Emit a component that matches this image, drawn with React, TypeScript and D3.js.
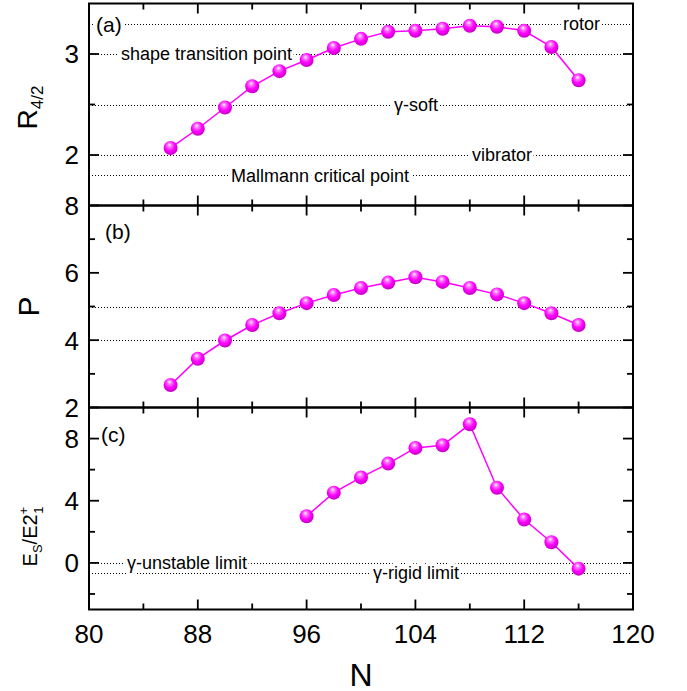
import React from 'react';
import {scaleLinear, line} from 'd3';

// neutron numbers
const nA = [86, 88, 90, 92, 94, 96, 98, 100, 102, 104, 106, 108, 110, 112, 114, 116];
const r42 = [2.07, 2.26, 2.47, 2.68, 2.83, 2.94, 3.06, 3.15, 3.22, 3.23, 3.25, 3.28, 3.27, 3.23, 3.07, 2.74];
const pVals = [2.67, 3.45, 3.99, 4.45, 4.80, 5.10, 5.34, 5.55, 5.71, 5.87, 5.73, 5.55, 5.36, 5.10, 4.80, 4.45];
const nC = [96, 98, 100, 102, 104, 106, 108, 110, 112, 114, 116];
const esVals = [3.0, 4.52, 5.50, 6.39, 7.40, 7.57, 8.92, 4.84, 2.79, 1.33, -0.37];

// reference levels
const refA = [
  {v: 3.3, label: 'rotor', at: 563},
  {v: 3.0, label: 'shape transition point', at: 121},
  {v: 2.5, label: 'γ-soft', at: 394},
  {v: 2.0, label: 'vibrator', at: 472},
  {v: 1.8, label: 'Mallmann critical point', at: 231},
];
const refB = [5, 4];
const refC = [
  {v: 0, label: 'γ-unstable limit', at: 127},
  {v: -0.65, label: 'γ-rigid limit', at: 373},
];

const xTickLabels = [80, 88, 96, 104, 112, 120];
const xTicks = [80, 84, 88, 92, 96, 100, 104, 108, 112, 116, 120];
const yTicksA = [2, 2.5, 3];
const yLabelsA = [2, 3];
const yTicksB = [2, 3, 4, 5, 6, 7, 8];
const yLabelsB = [2, 4, 6, 8];
const yTicksC = [-2, 0, 2, 4, 6, 8];
const yLabelsC = [0, 4, 8];

const W = 687;
const H = 691;
const L = 89;
const R = 633;
const T = 3.5;
const PH = 202;
const FONT = '"Liberation Sans", Arial, sans-serif';

const x = scaleLinear().domain([80, 120]).range([L, R]);
const crisp = (v: number) => Math.round(v) + 0.5;

const Panel = ({y, ticks, labels, refs, tag, tagX, tagY, children}: any) => {
  const [y0, y1] = y.range();
  return (
    <g>
      {refs.map((r: any, i: number) => (
        <line key={i} x1={L} x2={R} y1={crisp(y(r.v))} y2={crisp(y(r.v))} stroke="#000"
              strokeWidth={1} strokeDasharray="1,2"/>
      ))}
      {refs.filter((r: any) => r.label).map((r: any, i: number) => (
        <text key={i} x={r.at} y={y(r.v)} dy="0.35em" fontSize={18} fontFamily={FONT}
              stroke="white" strokeWidth={7} paintOrder="stroke" strokeLinejoin="round">{r.label}</text>
      ))}
      <text x={tagX} y={tagY} fontSize={21} fontFamily={FONT} stroke="white" strokeWidth={7}
            paintOrder="stroke">{tag}</text>
      {xTicks.map(t => {
        const len = xTickLabels.includes(t) ? 10 : 6;
        return (
          <g key={t}>
            <line x1={x(t)} x2={x(t)} y1={y0} y2={y0 - len} stroke="black" strokeWidth={1.8}/>
            <line x1={x(t)} x2={x(t)} y1={y1} y2={y1 + len} stroke="black" strokeWidth={1.8}/>
          </g>
        );
      })}
      {ticks.map((t: number) => {
        const len = labels.includes(t) ? 10 : 6;
        return (
          <g key={t}>
            <line x1={L} x2={L + len} y1={y(t)} y2={y(t)} stroke="black" strokeWidth={1.8}/>
            <line x1={R} x2={R - len} y1={y(t)} y2={y(t)} stroke="black" strokeWidth={1.8}/>
          </g>
        );
      })}
      {labels.map((t: number) => (
        <text key={t} x={L - 10} y={y(t)} dy="0.36em" textAnchor="end" fontSize={26}
              fontFamily={FONT}>{t}</text>
      ))}
      {children}
      <rect x={L} y={y1} width={R - L} height={y0 - y1} fill="none" stroke="black" strokeWidth={2}/>
    </g>
  );
};

const Series = ({xs, ys, y}: any) => {
  const pts = xs.map((n: number, i: number) => [x(n), y(ys[i])]);
  const path = line()(pts as [number, number][]);
  return (
    <g>
      <path d={path || ''} fill="none" stroke="#ff00ff" strokeWidth={1.5}/>
      {pts.map((p: number[], i: number) => (
        <circle key={i} cx={p[0]} cy={p[1]} r={7} fill="url(#ball)"/>
      ))}
    </g>
  );
};

export default function App() {
  const ya = scaleLinear().domain([1.5, 3.5]).range([T + PH, T]);
  const yb = scaleLinear().domain([2, 8]).range([T + 2 * PH, T + PH]);
  const yc = scaleLinear().domain([-3, 10]).range([T + 3 * PH, T + 2 * PH]);
  const bottom = T + 3 * PH;

  return (
    <svg width={W} height={H} style={{position: 'absolute', left: 0, top: 0, background: 'white'}}>
      <defs>
        <radialGradient id="ball" cx="0.45" cy="0.4" r="0.6" fx="0.42" fy="0.28">
          <stop offset="0" stopColor="#ffffff"/>
          <stop offset="0.22" stopColor="#ff80ff"/>
          <stop offset="0.6" stopColor="#ff00ff"/>
          <stop offset="1" stopColor="#c400c4"/>
        </radialGradient>
      </defs>

      <Panel y={ya} ticks={yTicksA} labels={yLabelsA} refs={refA} tag="(a)" tagX={96} tagY={32}>
        <Series xs={nA} ys={r42} y={ya}/>
      </Panel>
      <Panel y={yb} ticks={yTicksB} labels={yLabelsB} refs={refB.map(v => ({v}))} tag="(b)"
             tagX={105} tagY={239}>
        <Series xs={nA} ys={pVals} y={yb}/>
      </Panel>
      <Panel y={yc} ticks={yTicksC} labels={yLabelsC} refs={refC} tag="(c)" tagX={101} tagY={442}>
        <Series xs={nC} ys={esVals} y={yc}/>
      </Panel>

      {xTickLabels.map(t => (
        <text key={t} x={x(t)} y={bottom + 33} textAnchor="middle" fontSize={26}
              fontFamily={FONT}>{t}</text>
      ))}
      <text x={(L + R) / 2} y={bottom + 76} textAnchor="middle" fontSize={32} fontFamily={FONT}>N</text>

      <text transform={`translate(37,${T + PH / 2 + 3}) rotate(-90)`} textAnchor="middle"
            fontSize={28} fontFamily={FONT}>R<tspan fontSize={17} dy={6}>4/2</tspan></text>
      <text transform={`translate(39,${T + PH * 1.5}) rotate(-90)`} textAnchor="middle"
            fontSize={30} fontFamily={FONT}>P</text>
      <text transform={`translate(37,${T + PH * 2.5 + 28}) rotate(-90)`} textAnchor="middle"
            fontSize={20} fontFamily={FONT}>
        E<tspan fontSize={13} dy={5}>S</tspan><tspan dy={-5}>/E2</tspan>
        <tspan fontSize={13} dy={-9}>+</tspan><tspan fontSize={13} dx={-7} dy={15}>1</tspan>
      </text>
    </svg>
  );
}
